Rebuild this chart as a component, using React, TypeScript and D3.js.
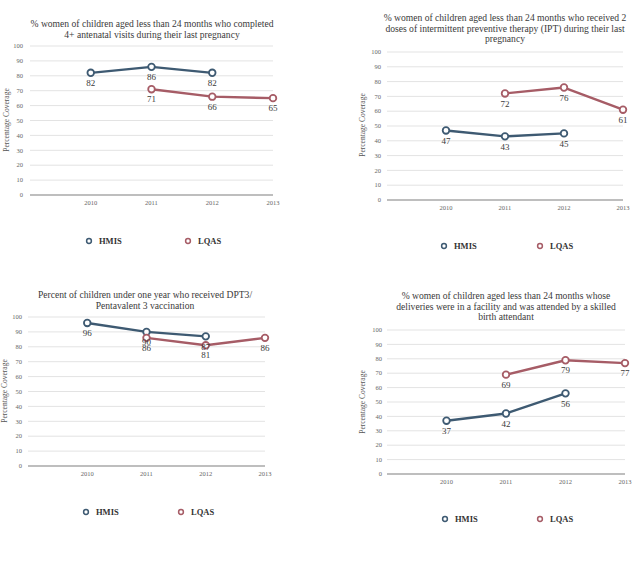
import * as d3 from "d3";
import { useEffect, useRef } from "react";

// categories: a blank slot sits before 2010 at the start of the axis
const years = ["", "2010", "2011", "2012", "2013"];
const yTicks = [0, 10, 20, 30, 40, 50, 60, 70, 80, 90, 100];

// values per year 2010..2013, null where no survey was done
const ancHmis = [82, 86, 82, null];
const ancLqas = [null, 71, 66, 65];
const iptHmis = [47, 43, 45, null];
const iptLqas = [null, 72, 76, 61];
const dptHmis = [96, 90, 87, null];
const dptLqas = [null, 86, 81, 86];
const sbaHmis = [37, 42, 56, null];
const sbaLqas = [null, 69, 79, 77];

const ancTitle = [
  "% women of children aged less than 24 months who completed",
  "4+ antenatal visits during their last pregnancy",
];
const iptTitle = [
  "% women of children aged less than 24 months who received 2",
  "doses of intermittent preventive therapy (IPT) during their last",
  "pregnancy",
];
const dptTitle = [
  "Percent of children under one year who received DPT3/",
  "Pentavalent 3 vaccination",
];
const sbaTitle = [
  "% women of children aged less than 24 months whose",
  "deliveries were in a facility and was attended by a skilled",
  "birth attendant",
];

const HMIS_COLOR = "#3e5a72";
const LQAS_COLOR = "#a65c66";
const FONT = "'Liberation Serif', 'Times New Roman', serif";

type Box = {
  left: number;
  right: number;
  top: number;
  bottom: number;
  titleX: number;
  titleY: number;
  tickRight: number;
  axisTitleX: number;
  axisTitleY: number;
  yearY: number;
  legendY: number;
  hmisX: number;
  lqasX: number;
};

type PanelSpec = {
  box: Box;
  title: string[];
  hmis: (number | null)[];
  lqas: (number | null)[];
};

const panels: PanelSpec[] = [
  {
    title: ancTitle,
    hmis: ancHmis,
    lqas: ancLqas,
    box: {
      left: 30, right: 273, top: 46, bottom: 195,
      titleX: 152, titleY: 24, tickRight: 23,
      axisTitleX: 6, axisTitleY: 120, yearY: 203,
      legendY: 241, hmisX: 89, lqasX: 188,
    },
  },
  {
    title: iptTitle,
    hmis: iptHmis,
    lqas: iptLqas,
    box: {
      left: 387, right: 623, top: 52, bottom: 200,
      titleX: 505, titleY: 18, tickRight: 381,
      axisTitleX: 362, axisTitleY: 125, yearY: 208,
      legendY: 246, hmisX: 444, lqasX: 540,
    },
  },
  {
    title: dptTitle,
    hmis: dptHmis,
    lqas: dptLqas,
    box: {
      left: 28, right: 265, top: 317, bottom: 466,
      titleX: 145, titleY: 295, tickRight: 22,
      axisTitleX: 4, axisTitleY: 391, yearY: 474,
      legendY: 512, hmisX: 86, lqasX: 181,
    },
  },
  {
    title: sbaTitle,
    hmis: sbaHmis,
    lqas: sbaLqas,
    box: {
      left: 387, right: 625, top: 330, bottom: 474,
      titleX: 506, titleY: 296, tickRight: 382,
      axisTitleX: 362, axisTitleY: 402, yearY: 482,
      legendY: 519, hmisX: 445, lqasX: 540,
    },
  },
];

type G = d3.Selection<SVGGElement, unknown, null, undefined>;

function drawPanel(root: G, spec: PanelSpec) {
  const b = spec.box;
  const x = d3.scalePoint<string>().domain(years).range([b.left, b.right]);
  const y = d3.scaleLinear().domain([0, 100]).range([b.bottom, b.top]);

  const g = root.append("g").style("font-family", FONT);

  // title
  const title = g
    .append("text")
    .attr("x", b.titleX)
    .attr("y", b.titleY)
    .attr("text-anchor", "middle")
    .attr("font-size", 9.6)
    .attr("fill", "#3a3a3a");
  spec.title.forEach((line, i) => {
    title
      .append("tspan")
      .attr("x", b.titleX)
      .attr("dy", i === 0 ? "0.35em" : 10.2)
      .text(line);
  });

  // gridlines
  g.append("g")
    .selectAll("line")
    .data(yTicks.filter((t) => t > 0))
    .join("line")
    .attr("x1", b.left)
    .attr("x2", b.right)
    .attr("y1", (d) => y(d))
    .attr("y2", (d) => y(d))
    .attr("stroke", "#e3e3e3")
    .attr("stroke-width", 1);

  g.append("line")
    .attr("x1", b.left)
    .attr("x2", b.right)
    .attr("y1", y(0))
    .attr("y2", y(0))
    .attr("stroke", "#a8a8a8")
    .attr("stroke-width", 1.5);

  // y tick labels
  g.append("g")
    .selectAll("text")
    .data(yTicks)
    .join("text")
    .attr("x", b.tickRight)
    .attr("y", (d) => y(d))
    .attr("dy", "0.35em")
    .attr("text-anchor", "end")
    .attr("font-size", 6.5)
    .attr("fill", "#666")
    .text((d) => d);

  // x tick labels
  g.append("g")
    .selectAll("text")
    .data(years.filter((d) => d !== ""))
    .join("text")
    .attr("x", (d) => x(d)!)
    .attr("y", b.yearY)
    .attr("dy", "0.35em")
    .attr("text-anchor", "middle")
    .attr("font-size", 6.5)
    .attr("fill", "#666")
    .text((d) => d);

  // axis title
  g.append("text")
    .attr(
      "transform",
      `translate(${b.axisTitleX},${b.axisTitleY}) rotate(-90)`
    )
    .attr("dy", "0.35em")
    .attr("text-anchor", "middle")
    .attr("font-size", 7.5)
    .attr("fill", "#555")
    .text("Percentage Coverage");

  const series = [
    { values: spec.hmis, color: HMIS_COLOR },
    { values: spec.lqas, color: LQAS_COLOR },
  ].map((s) => ({
    color: s.color,
    points: s.values
      .map((v, i) => ({ year: years[i + 1], value: v }))
      .filter((p) => p.value !== null) as { year: string; value: number }[],
  }));

  const line = d3
    .line<{ year: string; value: number }>()
    .x((d) => x(d.year)!)
    .y((d) => y(d.value));

  // lines then markers, labels go on top
  series.forEach((s) => {
    g.append("path")
      .attr("d", line(s.points)!)
      .attr("fill", "none")
      .attr("stroke", s.color)
      .attr("stroke-width", 2.4)
      .attr("stroke-linejoin", "round");
    g.append("g")
      .selectAll("circle")
      .data(s.points)
      .join("circle")
      .attr("cx", (d) => x(d.year)!)
      .attr("cy", (d) => y(d.value))
      .attr("r", 3.3)
      .attr("fill", "#fff")
      .attr("stroke", s.color)
      .attr("stroke-width", 1.8);
  });

  series.forEach((s) => {
    g.append("g")
      .selectAll("text")
      .data(s.points)
      .join("text")
      .attr("x", (d) => x(d.year)!)
      .attr("y", (d) => y(d.value) + 10)
      .attr("dy", "0.35em")
      .attr("text-anchor", "middle")
      .attr("font-size", 9)
      .attr("fill", "#3a3a3a")
      .text((d) => d.value);
  });

  // legend
  const legend = [
    { name: "HMIS", color: HMIS_COLOR, x: b.hmisX },
    { name: "LQAS", color: LQAS_COLOR, x: b.lqasX },
  ];
  legend.forEach((l) => {
    g.append("circle")
      .attr("cx", l.x)
      .attr("cy", b.legendY)
      .attr("r", 2.4)
      .attr("fill", "#fff")
      .attr("stroke", l.color)
      .attr("stroke-width", 1.5);
    g.append("text")
      .attr("x", l.x + 10)
      .attr("y", b.legendY)
      .attr("dy", "0.35em")
      .attr("font-size", 8.5)
      .attr("font-weight", "bold")
      .attr("fill", "#333")
      .text(l.name);
  });
}

const App = () => {
  const ref = useRef<SVGSVGElement | null>(null);

  useEffect(() => {
    if (!ref.current) return;
    const svg = d3.select(ref.current);
    svg.selectAll("*").remove();
    const root = svg.append("g") as G;
    panels.forEach((p) => drawPanel(root, p));
  }, []);

  return (
    <svg
      ref={ref}
      width={633}
      height={561}
      style={{ position: "absolute", left: 0, top: 0, background: "#fff" }}
    />
  );
};

export default App;
